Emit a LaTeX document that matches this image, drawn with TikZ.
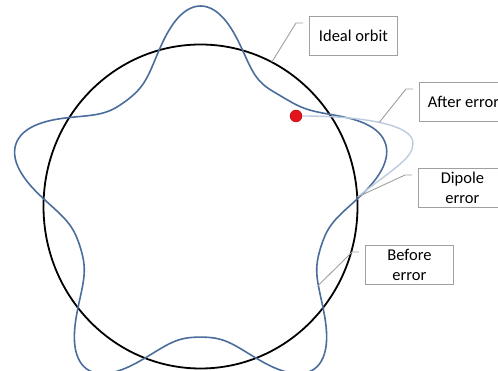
\documentclass[tikz,border=0pt]{standalone}
\usepackage{fontspec}
\setmainfont{Carlito}
\usetikzlibrary{positioning, calc}
\definecolor{orbitblue}{HTML}{4A6D9C}
\definecolor{afterblue}{HTML}{BCCBE0}
\definecolor{leadgray}{HTML}{A0A0A0}
\definecolor{dotred}{HTML}{E3141B}

\begin{document}
\begin{tikzpicture}[
  x=1pt, y=-1pt,
  every node/.style={font=\fontsize{16.5}{20}\selectfont},
  callout/.style={draw=leadgray, fill=white, line width=0.8pt, minimum width=88pt,
                  minimum height=39pt, align=center, anchor=north west, inner sep=2pt},
  leader/.style={draw=leadgray, line width=0.9pt},
  reddot/.style={circle, fill=dotred, draw=red!70!black, line width=0.4pt,
                 minimum size=12pt, inner sep=0pt},
  declare function={orb(\a)=157.4+34.5*cos(5*(\a-90))+6.1*cos(10*(\a-90))
                              +8*exp(-min(((\a-48)/18)^2,30));
                    ox(\a)=200.5+0.98125*orb(\a)*cos(\a);
                    oy(\a)=206.5-1.0125*orb(\a)*sin(\a);},
]
  \clip (0,0) rectangle (498,371);

  % Ideal orbit and the orbit oscillating around it
  \coordinate (ctr) at (200.5,206.5);
  \draw[line width=1.8pt] (ctr) ellipse [x radius=157pt, y radius=162pt];
  \draw[orbitblue, line width=1.6pt]
    plot[domain=0:360, samples=361] ({ox(\x)},{oy(\x)}) -- cycle;

  % Kick from the dipole error
  \coordinate (dip) at (357.5,197);
  \node[reddot] (dot) at (296,116) {};
  \draw[afterblue, line width=1.4pt]
    (dip) .. controls (396,167) and (413,158) .. (413,143)
          .. controls (413,124) and (360,116) .. coordinate[pos=0.5] (aftertip) (dot);

  % Labels
  \node[callout] (ideal)  at (309,16)  {Ideal orbit};
  \node[callout] (after)  at (419,82)  {After error};
  \node[callout] (dipole) at (418,168) {Dipole\\error};
  \node[callout] (before) at (365,245) {Before\\error};

  \coordinate (idealtip)  at ($(ctr)+({157*cos(63)},{-162*sin(63)})$);
  \coordinate (beforetip) at ({ox(327)},{oy(327)});

  \draw[leader] ([xshift=-6pt,yshift=-7pt]ideal.north west)  -- ++(-7,0) -- (idealtip);
  \draw[leader] ([xshift=-6pt,yshift=-7pt]after.north west)  -- ++(-7,0) -- (aftertip);
  \draw[leader] ([xshift=-6pt,yshift=-7pt]dipole.north west) -- ++(-7,0) -- (dip);
  \draw[leader] ([xshift=-6pt,yshift=-7pt]before.north west) -- ++(-7,0) -- (beforetip);
\end{tikzpicture}
\end{document}
